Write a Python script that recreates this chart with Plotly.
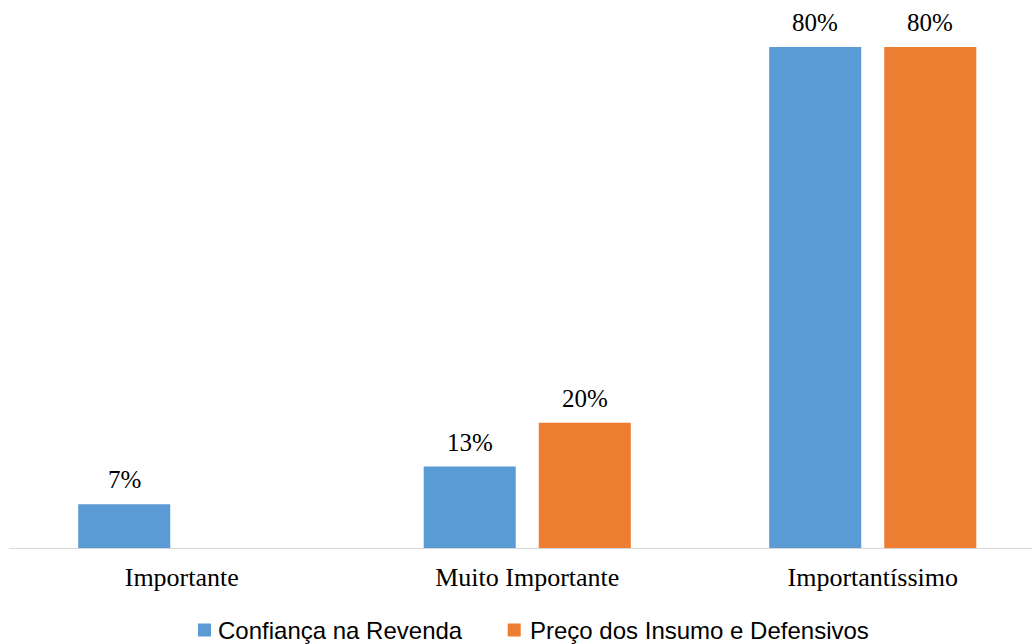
import plotly.graph_objects as go

categories = ["Importante", "Muito Importante", "Importantíssimo"]
confianca = [7, 13, 80]
preco = [None, 20, 80]
series_names = ["Confiança na Revenda", "Preço dos Insumo e Defensivos"]
colors = ["#5B9BD5", "#ED7D31"]

W, H = 1032, 644
ML, MR, MT, MB = 9, 0, 10, 96
PW, PH = W - ML - MR, H - MT - MB
PX_PER_CAT = 345.5
XMIN = -0.5
XMAX = XMIN + PW / PX_PER_CAT
PX_PER_PCT = 501 / 80
YMAX = PH / PX_PER_PCT
BARGAP, BARGROUPGAP = 0.334, 0.2
slot = (1 - BARGAP) / 2  # data units per bar slot

xpos = list(range(len(categories)))

fig = go.Figure()
for k, (name, vals, col) in enumerate(zip(series_names, [confianca, preco], colors)):
    fig.add_trace(go.Bar(
        x=xpos, y=vals, name=name, marker_color=col,
        marker_line_width=0, showlegend=False,
    ))
    off = (k - 0.5) * slot
    for xi, v in zip(xpos, vals):
        if v is None:
            continue
        fig.add_annotation(
            x=xi + off, y=v, xref="x", yref="y", text=f"{v}%",
            showarrow=False, yanchor="bottom", yshift=9,
            font=dict(family="Liberation Serif", size=25, color="#000000"),
        )

def px2paper_x(px):
    return (px - ML) / PW

def px2paper_y(py):
    return (H - MB - py) / PH

# custom legend
legend_items = [(198, 216), (507.7, 527.7)]
for (sq_x, tx), name, col in zip(legend_items, series_names, colors):
    fig.add_shape(type="rect", xref="paper", yref="paper",
                  x0=px2paper_x(sq_x), x1=px2paper_x(sq_x + 13),
                  y0=px2paper_y(636.5), y1=px2paper_y(623.5),
                  fillcolor=col, line_width=0)
    fig.add_annotation(x=px2paper_x(tx), y=px2paper_y(630), xref="paper", yref="paper",
                       text=name, showarrow=False, xanchor="left", yanchor="middle",
                       font=dict(family="Liberation Sans", size=24, color="#000000"))

fig.update_layout(
    width=W, height=H,
    margin=dict(l=ML, r=MR, t=MT, b=MB, autoexpand=False),
    paper_bgcolor="white", plot_bgcolor="white",
    barmode="group", bargap=BARGAP, bargroupgap=BARGROUPGAP,
    showlegend=False,
    xaxis=dict(range=[XMIN, XMAX], tickvals=xpos, ticktext=categories,
               showline=True, linecolor="#D9D9D9", linewidth=1,
               ticks="outside", ticklen=6, tickcolor="rgba(0,0,0,0)",
               showgrid=False, zeroline=False, automargin=False,
               tickfont=dict(family="Liberation Serif", size=26, color="#000000")),
    yaxis=dict(range=[0, YMAX], visible=False, showgrid=False, zeroline=False),
)

fig.write_html("out.html")
